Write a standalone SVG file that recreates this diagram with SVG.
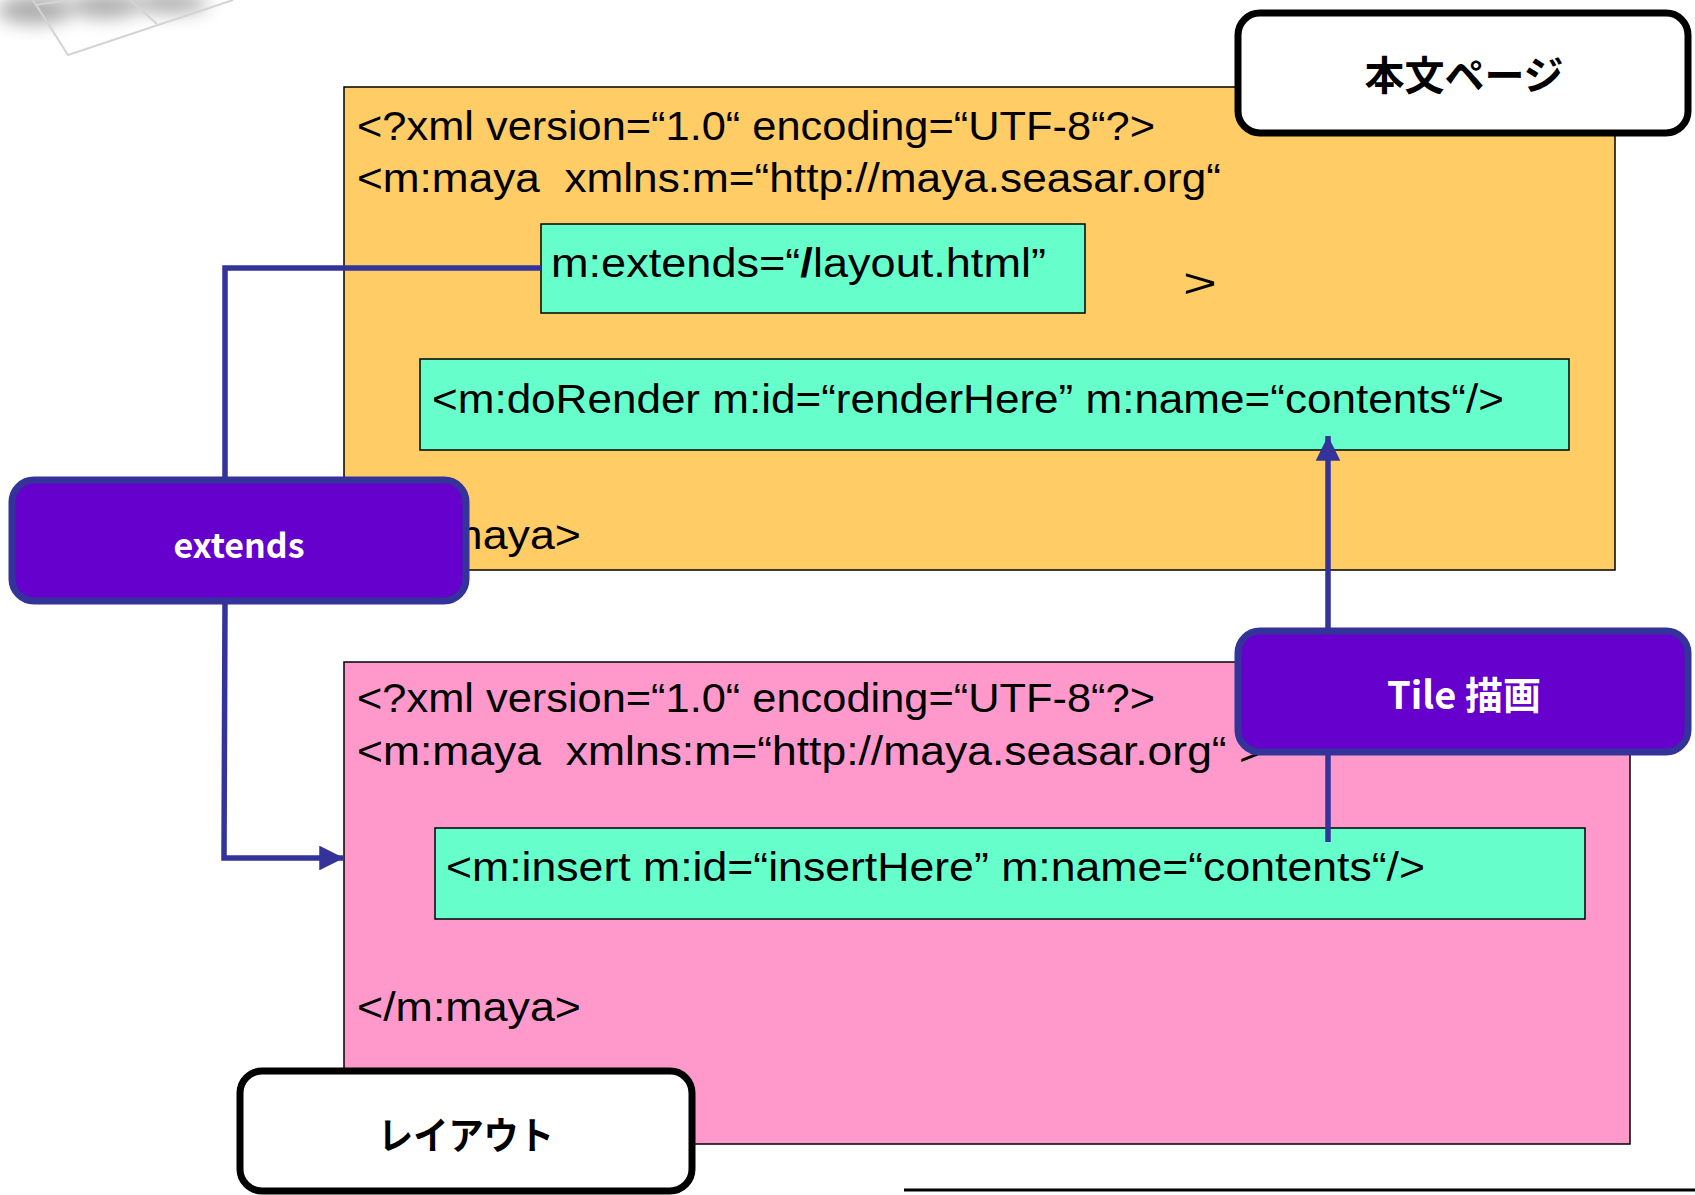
<svg xmlns="http://www.w3.org/2000/svg" width="1695" height="1195" viewBox="0 0 1695 1195">
<style>
.code{font-family:"Liberation Sans","Noto Sans CJK JP",sans-serif;font-size:41px;fill:#000;white-space:pre}
.lbl{font-family:"Noto Sans CJK JP","Noto Sans",sans-serif;font-weight:bold;fill:#fff;text-anchor:middle}
.blk{font-family:"Noto Sans CJK JP","Noto Sans",sans-serif;font-weight:bold;fill:#000;text-anchor:middle}
.doc{stroke:#000;stroke-width:1.5}
.tag{fill:#66FFCC;stroke:#000;stroke-width:1.5}
.purple{fill:#6600CC;stroke:#333399;stroke-width:7}
.white{fill:#fff;stroke:#000;stroke-width:7}
.conn{fill:none;stroke:#333399;stroke-width:5.5}
</style>
<defs>
<marker id="arr" viewBox="0 0 10 10" refX="10" refY="5" markerWidth="4.5" markerHeight="4.5" orient="auto" markerUnits="strokeWidth">
<path d="M0,0 L10,5 L0,10 z" fill="#333399"/>
</marker>
<filter id="blur" x="-50%" y="-50%" width="200%" height="200%"><feGaussianBlur stdDeviation="9"/></filter>
</defs>

<g id="decor">
<g filter="url(#blur)" fill="#888" opacity="0.7">
<ellipse cx="35" cy="10" rx="38" ry="14"/>
<ellipse cx="105" cy="6" rx="35" ry="12"/>
<ellipse cx="170" cy="3" rx="38" ry="10"/>
</g>
<g fill="none" stroke="#d4d4d4" stroke-width="2">
<path d="M33,0 L68,55 L233,0"/>
<path d="M130,0 L157,24"/>
<path d="M35,5 L70,0"/>
</g>
</g>

<g id="main-page">
<rect class="doc" x="344" y="87" width="1271" height="483" fill="#FFCC66"/>
<text class="code" x="357" y="140" textLength="798" lengthAdjust="spacingAndGlyphs">&lt;?xml version=“1.0“ encoding=“UTF-8“?&gt;</text>
<text class="code" x="357" y="192" textLength="864" lengthAdjust="spacingAndGlyphs">&lt;m:maya  xmlns:m=“http://maya.seasar.org“</text>
<text class="code" x="1183" y="297" font-size="60" textLength="34" lengthAdjust="spacingAndGlyphs">&gt;</text>
<text class="code" x="357" y="549" textLength="224" lengthAdjust="spacingAndGlyphs">&lt;/m:maya&gt;</text>
</g>

<g id="extends-attr">
<rect class="tag" x="541" y="224" width="544" height="89"/>
<text class="code" x="551" y="277" textLength="495" lengthAdjust="spacingAndGlyphs">m:extends=“<tspan font-weight="bold">/</tspan>layout.html”</text>
</g>

<g id="do-render">
<rect class="tag" x="420" y="359" width="1149" height="91"/>
<text class="code" x="432" y="413" textLength="1072" lengthAdjust="spacingAndGlyphs">&lt;m:doRender m:id=“renderHere” m:name=“contents“/&gt;</text>
</g>

<g id="layout-page">
<rect class="doc" x="344" y="662" width="1286" height="482" fill="#FF99CC"/>
<text class="code" x="357" y="712" textLength="798" lengthAdjust="spacingAndGlyphs">&lt;?xml version=“1.0“ encoding=“UTF-8“?&gt;</text>
<text class="code" x="357" y="765" textLength="908" lengthAdjust="spacingAndGlyphs">&lt;m:maya  xmlns:m=“http://maya.seasar.org“ &gt;</text>
<text class="code" x="357" y="1021" textLength="224" lengthAdjust="spacingAndGlyphs">&lt;/m:maya&gt;</text>
</g>

<g id="insert">
<rect class="tag" x="435" y="828" width="1150" height="91"/>
<text class="code" x="446" y="881" textLength="979" lengthAdjust="spacingAndGlyphs">&lt;m:insert m:id=“insertHere” m:name=“contents“/&gt;</text>
</g>

<g id="connectors">
<path class="conn" d="M541,268 L225,268 L225,479"/>
<path class="conn" d="M225,602 L224,858 L344,858" marker-end="url(#arr)"/>
<path class="conn" d="M1328,842 L1328,753"/>
<path class="conn" d="M1328,630 L1328,436" marker-end="url(#arr)"/>
</g>

<g id="honbun-label">
<rect class="white" x="1238" y="13" width="450" height="120" rx="22"/>
<text class="blk" x="1464" y="90" font-size="40">本文ページ</text>
</g>

<g id="extends-label">
<rect class="purple" x="12" y="480" width="454" height="121" rx="22"/>
<text class="lbl" x="239" y="558" font-size="34">extends</text>
</g>

<g id="tile-label">
<rect class="purple" x="1238" y="631" width="450" height="121" rx="22"/>
<text class="lbl" x="1464" y="709" font-size="38">Tile 描画</text>
</g>

<g id="layout-label">
<rect class="white" x="240" y="1071" width="452" height="120" rx="22"/>
<text class="blk" x="466" y="1149" font-size="38" textLength="176" lengthAdjust="spacingAndGlyphs">レイアウト</text>
</g>

<line x1="904" y1="1190" x2="1695" y2="1190" stroke="#000" stroke-width="3"/>
</svg>
